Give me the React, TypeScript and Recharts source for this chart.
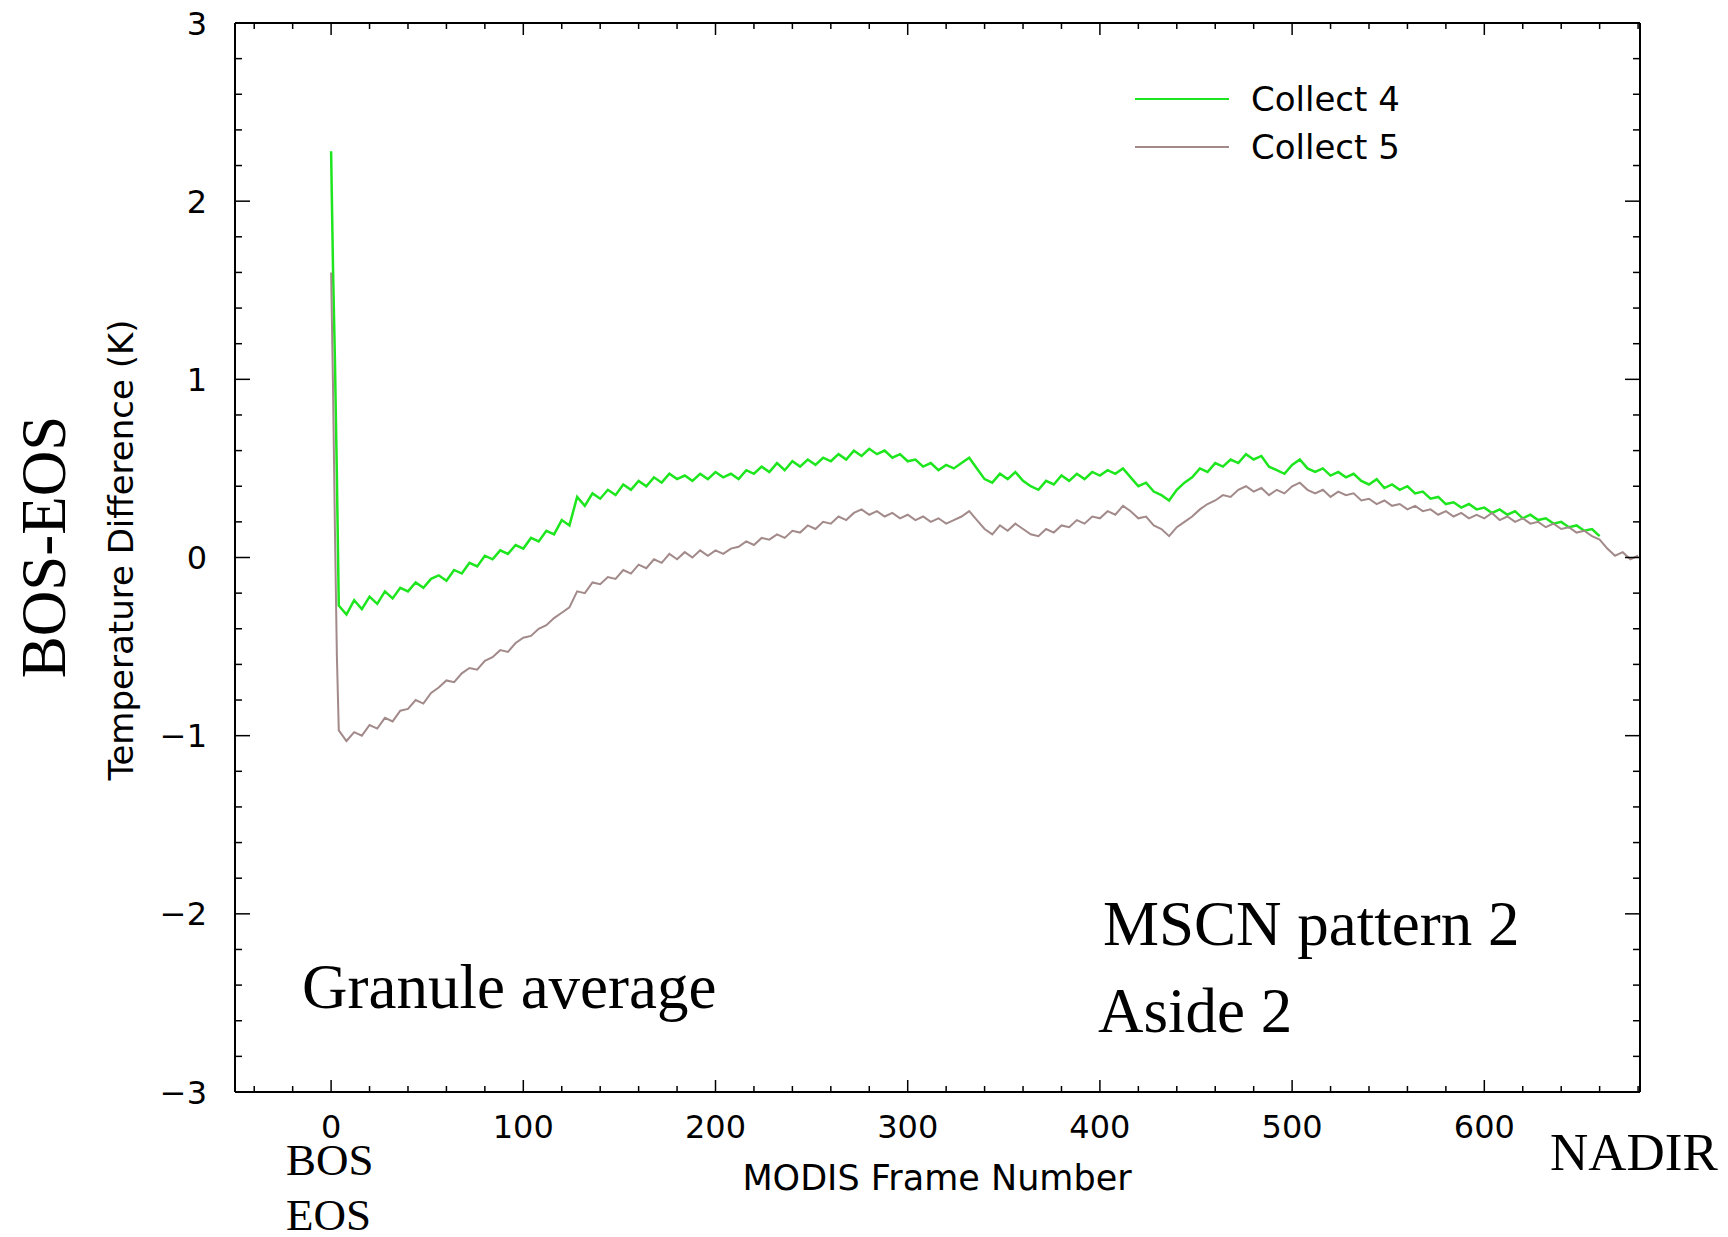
import { LineChart, Line, XAxis, YAxis, Legend } from 'recharts'

const SANS = '"DejaVu Sans", Verdana, sans-serif'
const SERIF = '"Liberation Serif", "Times New Roman", serif'

// frame numbers: the first few frames around the BOS/EOS spike, then every 4th frame
const startFrames = [0, 1, 2, 3]
const scanFrames = Array.from({ length: 170 }, (_, i) => 4 + 4 * i)
const frames = [...startFrames, ...scanFrames]

// Collect 4 (green)
const collect4Start = [2.28, 1.62, 1.1, 0.46]
const collect4Scan = [
  -0.27, -0.32, -0.24, -0.29, -0.22, -0.26, -0.19, -0.23, -0.17, -0.19,
  -0.14, -0.17, -0.12, -0.1, -0.13, -0.07, -0.09, -0.03, -0.05, 0.01,
  -0.01, 0.04, 0.02, 0.07, 0.05, 0.11, 0.09, 0.15, 0.13, 0.21,
  0.18, 0.34, 0.29, 0.36, 0.33, 0.38, 0.35, 0.41, 0.38, 0.43,
  0.4, 0.45, 0.42, 0.47, 0.44, 0.46, 0.43, 0.47, 0.44, 0.48,
  0.45, 0.47, 0.44, 0.49, 0.47, 0.51, 0.48, 0.53, 0.49, 0.54,
  0.51, 0.55, 0.52, 0.56, 0.54, 0.58, 0.55, 0.6, 0.57, 0.61,
  0.58, 0.6, 0.56, 0.58, 0.54, 0.55, 0.51, 0.53, 0.49, 0.52,
  0.5, 0.53, 0.56, 0.5, 0.44, 0.42, 0.47, 0.44, 0.48, 0.43,
  0.4, 0.38, 0.43, 0.41, 0.46, 0.43, 0.47, 0.44, 0.48, 0.46,
  0.49, 0.47, 0.5, 0.45, 0.4, 0.42, 0.37, 0.35, 0.32, 0.38,
  0.42, 0.45, 0.5, 0.48, 0.53, 0.51, 0.55, 0.53, 0.58, 0.55,
  0.57, 0.51, 0.49, 0.47, 0.52, 0.55, 0.5, 0.48, 0.5, 0.46,
  0.48, 0.45, 0.47, 0.43, 0.41, 0.44, 0.39, 0.41, 0.38, 0.4,
  0.36, 0.37, 0.33, 0.34, 0.3, 0.31, 0.28, 0.3, 0.27, 0.28,
  0.25, 0.27, 0.24, 0.26, 0.22, 0.24, 0.21, 0.22, 0.19, 0.2,
  0.17, 0.18, 0.15, 0.16, 0.12, null, null, null, null, null,
]

// Collect 5 (brown)
const collect5Start = [1.6, 0.95, 0.15, -0.55]
const collect5Scan = [
  -0.97, -1.03, -0.98, -1.0, -0.94, -0.96, -0.9, -0.92, -0.86, -0.85,
  -0.8, -0.82, -0.76, -0.73, -0.69, -0.7, -0.65, -0.62, -0.63, -0.58,
  -0.56, -0.52, -0.53, -0.48, -0.45, -0.44, -0.4, -0.38, -0.34, -0.31,
  -0.28, -0.19, -0.2, -0.14, -0.15, -0.11, -0.12, -0.07, -0.09, -0.04,
  -0.06, -0.01, -0.03, 0.02, -0.01, 0.03, 0.0, 0.04, 0.01, 0.04,
  0.02, 0.05, 0.06, 0.09, 0.07, 0.11, 0.1, 0.13, 0.11, 0.15,
  0.14, 0.18, 0.16, 0.2, 0.19, 0.23, 0.21, 0.25, 0.27, 0.24,
  0.26, 0.23, 0.25, 0.22, 0.24, 0.21, 0.23, 0.2, 0.22, 0.19,
  0.21, 0.23, 0.26, 0.21, 0.16, 0.13, 0.18, 0.15, 0.19, 0.16,
  0.13, 0.12, 0.16, 0.14, 0.18, 0.17, 0.21, 0.19, 0.23, 0.22,
  0.26, 0.24, 0.29, 0.26, 0.22, 0.23, 0.18, 0.16, 0.12, 0.17,
  0.2, 0.23, 0.27, 0.3, 0.32, 0.35, 0.34, 0.38, 0.4, 0.37,
  0.39, 0.35, 0.38, 0.36, 0.4, 0.42, 0.38, 0.36, 0.38, 0.34,
  0.37, 0.35, 0.36, 0.32, 0.33, 0.3, 0.32, 0.29, 0.3, 0.27,
  0.29, 0.26, 0.27, 0.24, 0.26, 0.23, 0.25, 0.22, 0.24, 0.22,
  0.25, 0.21, 0.23, 0.2, 0.22, 0.19, 0.2, 0.17, 0.19, 0.16,
  0.17, 0.14, 0.15, 0.12, 0.1, 0.05, 0.01, 0.03, -0.01, 0.01,
]

const collect4 = [...collect4Start, ...collect4Scan]
const collect5 = [...collect5Start, ...collect5Scan]

const xTicks = Array.from({ length: 37 }, (_, i) => -40 + 20 * i)
const yTicks = Array.from({ length: 31 }, (_, i) => Math.round((-3 + 0.2 * i) * 10) / 10)

const data = frames.map((frame, i) => ({ frame, c4: collect4[i], c5: collect5[i] }))

const fmt = (v: number) => (v < 0 ? `\u2212${Math.abs(v)}` : `${v}`)

function BottomTick({ x, y, payload }: any) {
  const v = payload.value
  const major = v % 100 === 0
  return (
    <g>
      <line x1={x} x2={x} y1={y} y2={y - (major ? 12 : 6)} stroke="#000" strokeWidth={1.5} />
      {major && (
        <text x={x} y={y + 46} textAnchor="middle" fontSize={32} fontFamily={SANS} fill="#000">
          {fmt(v)}
        </text>
      )}
    </g>
  )
}

function TopTick({ x, y, payload }: any) {
  const major = payload.value % 100 === 0
  return <line x1={x} x2={x} y1={y} y2={y + (major ? 12 : 6)} stroke="#000" strokeWidth={1.5} />
}

function LeftTick({ x, y, payload }: any) {
  const v = payload.value
  const major = Number.isInteger(v)
  return (
    <g>
      <line x1={x} x2={x + (major ? 15 : 7)} y1={y} y2={y} stroke="#000" strokeWidth={1.5} />
      {major && (
        <text x={x - 28} y={y + 11.5} textAnchor="end" fontSize={32} fontFamily={SANS} fill="#000">
          {fmt(v)}
        </text>
      )}
    </g>
  )
}

function RightTick({ x, y, payload }: any) {
  const major = Number.isInteger(payload.value)
  return <line x1={x} x2={x - (major ? 15 : 7)} y1={y} y2={y} stroke="#000" strokeWidth={1.5} />
}

function LegendBox({ payload }: any) {
  const items = (payload || []).filter((p: any) => p.type !== 'none')
  return (
    <div>
      {items.map((p: any) => (
        <div key={p.value} style={{ display: 'flex', alignItems: 'center', height: 48 }}>
          <div style={{ width: 94, height: 2.5, background: p.color }} />
          <span style={{ marginLeft: 22, fontFamily: SANS, fontSize: 34, lineHeight: '48px', color: '#000' }}>
            {p.value}
          </span>
        </div>
      ))}
    </div>
  )
}

export default function App() {
  const axisLine = { stroke: '#000', strokeWidth: 2 }
  return (
    <div style={{ position: 'relative', width: 1728, height: 1237, background: '#fff' }}>
      <style>{'body{margin:0;overflow:hidden;background:#fff}'}</style>
      <LineChart width={1728} height={1237} data={data} margin={{ top: 22, right: 87, bottom: 0, left: 0 }}>
        <XAxis
          dataKey="frame"
          type="number"
          domain={[-50, 681]}
          ticks={xTicks}
          interval={0}
          height={145}
          tickSize={0}
          tickMargin={0}
          tickLine={false}
          axisLine={axisLine}
          tick={<BottomTick />}
        />
        <XAxis
          xAxisId="top"
          orientation="top"
          dataKey="frame"
          type="number"
          domain={[-50, 681]}
          ticks={xTicks}
          interval={0}
          height={1}
          tickSize={0}
          tickMargin={0}
          tickLine={false}
          axisLine={axisLine}
          tick={<TopTick />}
        />
        <YAxis
          type="number"
          domain={[-3, 3]}
          ticks={yTicks}
          interval={0}
          width={235}
          tickSize={0}
          tickMargin={0}
          tickLine={false}
          axisLine={axisLine}
          tick={<LeftTick />}
        />
        <YAxis
          yAxisId="right"
          orientation="right"
          type="number"
          domain={[-3, 3]}
          ticks={yTicks}
          interval={0}
          width={1}
          tickSize={0}
          tickMargin={0}
          tickLine={false}
          axisLine={axisLine}
          tick={<RightTick />}
        />
        <Legend
          layout="vertical"
          align="center"
          verticalAlign="middle"
          wrapperStyle={{ left: 1135, top: 75, width: 360 }}
          content={<LegendBox />}
        />
        {/* invisible series so the mirrored top and right axes are drawn */}
        <Line
          xAxisId="top"
          yAxisId="right"
          dataKey="c5"
          stroke="none"
          dot={false}
          legendType="none"
          isAnimationActive={false}
        />
        <Line
          name="Collect 4"
          dataKey="c4"
          type="linear"
          stroke="#1ee61e"
          strokeWidth={2.5}
          dot={false}
          isAnimationActive={false}
        />
        <Line
          name="Collect 5"
          dataKey="c5"
          type="linear"
          stroke="#a38a8a"
          strokeWidth={2}
          dot={false}
          isAnimationActive={false}
        />
      </LineChart>
      <svg
        width={1728}
        height={1237}
        style={{ position: 'absolute', left: 0, top: 0, pointerEvents: 'none' }}
      >
        <text transform="translate(65,547) rotate(-90)" textAnchor="middle" fontFamily={SERIF} fontSize={63} fill="#000">
          BOS-EOS
        </text>
        <text transform="translate(133,550) rotate(-90)" textAnchor="middle" fontFamily={SANS} fontSize={34} fill="#000">
          Temperature Difference (K)
        </text>
        <text x={937} y={1190} textAnchor="middle" fontFamily={SANS} fontSize={35} fill="#000">
          MODIS Frame Number
        </text>
        <text x={302} y={1008} fontFamily={SERIF} fontSize={63} fill="#000">Granule average</text>
        <text x={1103} y={945} fontFamily={SERIF} fontSize={63} fill="#000">MSCN pattern 2</text>
        <text x={1098} y={1032} fontFamily={SERIF} fontSize={63} fill="#000">Aside 2</text>
        <text x={286} y={1175} fontFamily={SERIF} fontSize={45} fill="#000">BOS</text>
        <text x={286} y={1230} fontFamily={SERIF} fontSize={45} fill="#000">EOS</text>
        <text x={1550} y={1170} fontFamily={SERIF} fontSize={53} fill="#000">NADIR</text>
      </svg>
    </div>
  )
}
